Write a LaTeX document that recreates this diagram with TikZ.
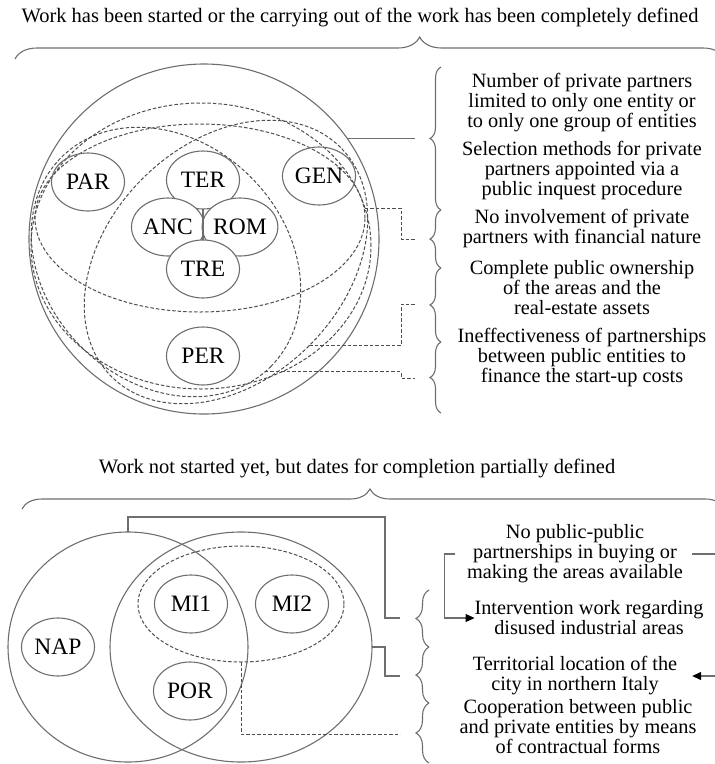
\documentclass[tikz,border=0pt]{standalone}
\usepackage{fontspec}
\setmainfont{Liberation Serif}
\usetikzlibrary{arrows.meta,shapes.geometric,decorations.pathreplacing}
\definecolor{linegray}{HTML}{6E6E6E}
\definecolor{dashgray}{HTML}{4E4E4E}

\begin{document}
\begin{tikzpicture}[
  x=1pt, y=-1pt,
  every node/.style={inner sep=0pt, outer sep=0pt},
  wire/.style={draw=linegray, line width=1.1pt},
  link/.style={draw=dashgray, line width=1pt, dash pattern=on 3.5pt off 2pt},
  setring/.style={ellipse, wire},
  setdash/.style={ellipse, link},
  city/.style={ellipse, wire, minimum width=73pt, minimum height=58pt, font=\fontsize{23.5}{24}\selectfont},
  crit/.style={align=center, font=\fontsize{20.3}{20}\selectfont},
  headline/.style={font=\fontsize{20.5}{20}\selectfont},
  curly/.style={wire, decorate, decoration={brace, amplitude=#1}},
  pointer/.style={wire, -{Triangle[length=9pt, width=8pt, color=black, fill=black]}}
]
\useasboundingbox (0,0) rectangle (715,764);

% upper case: work started or fully defined
\node[headline] (h1) at (360,17) {Work has been started or the carrying out of the work has been completely defined};
\draw[curly=22pt, decoration={aspect=0.570}] (15,59) -- (725,59);

\node[setring, minimum width=350pt, minimum height=350pt] (S) at (204,239) {};
\node[setdash, minimum width=340pt, minimum height=286pt] (B) at (201,246) {};
\node[setdash, minimum width=330pt, minimum height=188pt] (A) at (200,218) {};
\node[setdash, rotate=-45, minimum width=296pt, minimum height=240pt] (C) at (166,262) {};
\node[setdash, rotate=45, minimum width=324pt, minimum height=236pt] (D) at (226,262) {};

\node[city] (PAR) at (88,182) {PAR};
\node[city] (GEN) at (319,176) {GEN};
\node[city] (PER) at (203,356) {PER};
\node[city, fill=white] (TER) at (203,180) {TER};
\node[city, fill=white] (ANC) at (168,227) {ANC};
\node[city, fill=white] (ROM) at (240,227) {ROM};
\node[city, fill=white] (TRE) at (203,269) {TRE};
\draw[wire] (TER.south) -- (TRE.north);

\node[crit] (q1) at (582,103) {Number of private partners\\limited to only one entity or\\to only one group of entities};
\node[crit] (q2) at (582,171) {Selection methods for private\\partners appointed via a\\public inquest procedure};
\node[crit] (q3) at (582,229) {No involvement of private\\partners with financial nature};
\node[crit] (q4) at (582,288) {Complete public ownership\\of the areas and the\\real-estate assets};
\node[crit] (q5) at (582,358) {Ineffectiveness of partnerships\\between public entities to\\finance the start-up costs};

\foreach \lo/\hi in {210/67, 268/210, 342/268, 413/342}
  \draw[curly=11pt] (441,\lo) -- (441,\hi);

\coordinate (t1) at (415,138);
\coordinate (t2) at (415,239);
\coordinate (t3) at (415,304);
\coordinate (t4) at (415,378);
\draw[wire] (S.35) -- (S.35 -| t1);
\draw[link] (B.13) -| ([xshift=-14pt]t2) -- (t2);
\draw[link] (D.-90) -| ([xshift=-14pt]t3) -- (t3);
\draw[link] (C.-3) -| ([xshift=-14pt]t4) -- (t4);

% lower case: not started, dates partially defined
\node[headline] (h2) at (357,468) {Work not started yet, but dates for completion partially defined};
\draw[curly=20pt, decoration={aspect=0.495}] (22,509) -- (725,509);

\node[setring, minimum width=240pt, minimum height=230pt] (L) at (128,647) {};
\node[setring, minimum width=262pt, minimum height=230pt] (R) at (241,647) {};
\node[setdash, minimum width=206pt, minimum height=116pt] (M) at (241,604) {};

\node[city] (NAP) at (58,647) {NAP};
\node[city] (MI1) at (191,604) {MI1};
\node[city] (MI2) at (292,604) {MI2};
\node[city] (POR) at (190,691) {POR};

\node[crit] (k1) at (575,554) {No public-public\\partnerships in buying or\\making the areas available};
\node[crit] (k2) at (589,618) {Intervention work regarding\\disused industrial areas};
\node[crit] (k3) at (575,676) {Territorial location of the\\city in northern Italy};
\node[crit] (k4) at (578,727) {Cooperation between public\\and private entities by means\\of contractual forms};

\foreach \lo/\hi in {647/590, 703/647, 763/703}
  \draw[curly=13pt] (429,\lo) -- (429,\hi);

\coordinate (u1) at (400,618);
\coordinate (u2) at (400,676);
\coordinate (u3) at (400,734);
\draw[wire] (L.north) -- ++(0,-15) -| ([xshift=-15pt]u1) -- (u1);
\draw[wire] (R.east) -| ([xshift=-15pt]u2) -- (u2);
\draw[link] (M.south) |- (u3);

\coordinate (rimA) at (715,554);
\coordinate (rimB) at (715,676);
\draw[pointer] (k1.west) ++(-12,0) -- ++(-11,0) |- (k2.west);
\draw[wire] ([xshift=9pt]k1.east) -- (k1.east -| rimA);
\draw[pointer] (k3.east -| rimB) -- ([xshift=15pt]k3.east);
\end{tikzpicture}
\end{document}
